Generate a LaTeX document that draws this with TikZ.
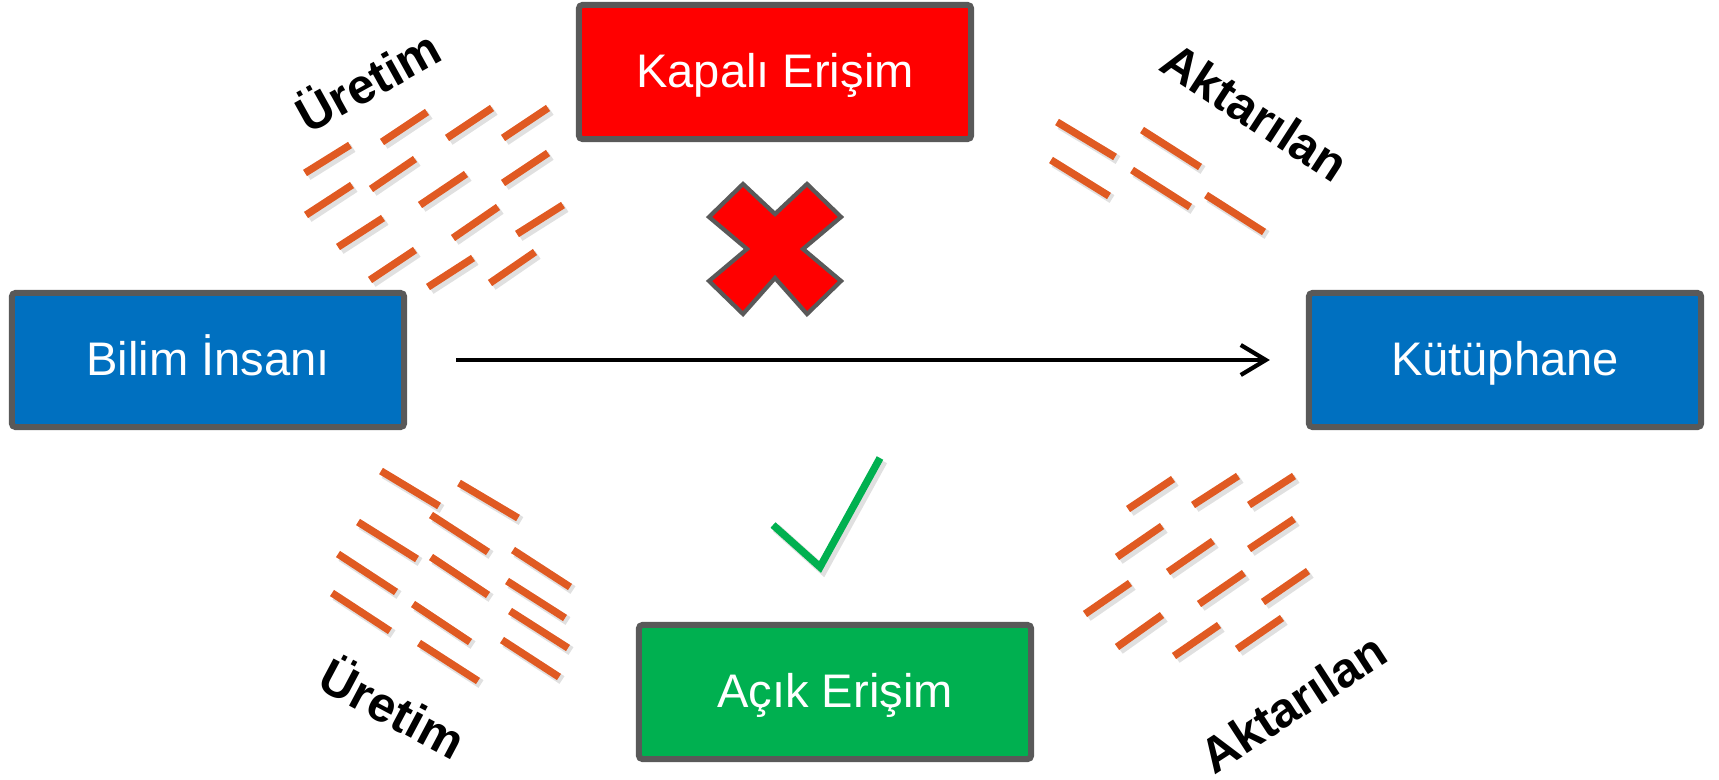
\documentclass[tikz,border=0pt]{standalone}
\usepackage{fontspec}
\setmainfont{Liberation Sans}
\usetikzlibrary{arrows.meta}

\definecolor{boxblue}{HTML}{0070C0}
\definecolor{boxred}{HTML}{FF0000}
\definecolor{boxgreen}{HTML}{00B050}
\definecolor{streakorange}{HTML}{E05A22}
\definecolor{rimgray}{HTML}{595959}

\begin{document}
\begin{tikzpicture}[x=0.01cm,y=-0.01cm,
	box/.style={draw=rimgray,line width=1.7pt,rounded corners=1pt,text=white,minimum width=3.92cm,minimum height=1.34cm,text height=0.9em,text depth=0pt,font=\fontsize{13.4}{16}\selectfont},
	tag/.style={inner sep=0pt,font=\fontsize{14}{17}\selectfont\bfseries},
	streak/.style={streakorange,line width=2.1pt},
	shade/.style={black,opacity=0.12,line width=2.6pt}]

		\useasboundingbox (0,0) rectangle (1719,779);

		\node (BilimInsani) at (208,360) [box,fill=boxblue]{Bilim İnsanı};
		\node (Kutuphane) at (1505,360) [box,fill=boxblue]{Kütüphane};

		\node (KapaliErisim) at (775,72) [box,fill=boxred]{Kapalı Erişim};
		\node (AcikErisim) at (835,692) [box,fill=boxgreen]{Açık Erişim};

		\node (UretimUst) at (367,79) [tag,rotate=29]{Üretim};
		\node (AktarilanUst) at (1255,112) [tag,rotate=-33]{Aktarılan};
		\node (UretimAlt) at (394,706) [tag,rotate=-28]{Üretim};
		\node (AktarilanAlt) at (1293,703) [tag,rotate=33]{Aktarılan};

		\draw [line width=1.2pt,-{Straight Barb[length=0.25cm,width=0.3cm]},shorten <=0.49cm,shorten >=0.36cm] (BilimInsani) -- (Kutuphane);

		% upper left
		\foreach \xa/\ya/\xb/\yb in {305/173/350/145, 382/142/427/112, 447/138/492/108, 503/138/548/108,
			306/215/352/185, 371/189/415/159, 420/205/466/174, 503/183/548/153,
			338/247/383/218, 453/238/498/207, 517/234/563/205,
			370/280/415/250, 428/287/473/258, 490/283/535/252}{
			\draw [shade] (\xa+3,\ya+3) -- (\xb+3,\yb+3);
			\draw [streak] (\xa,\ya) -- (\xb,\yb);
		}

		% upper right
		\foreach \xa/\ya/\xb/\yb in {1057/122/1115/157, 1142/130/1200/167, 1051/160/1109/196,
			1132/170/1190/207, 1206/195/1264/232}{
			\draw [shade] (\xa+3,\ya+3) -- (\xb+3,\yb+3);
			\draw [streak] (\xa,\ya) -- (\xb,\yb);
		}

		% lower left
		\foreach \xa/\ya/\xb/\yb in {381/471/439/506, 459/483/518/518, 431/515/488/552, 358/522/417/559,
			513/550/570/587, 338/554/396/592, 431/557/488/595, 507/581/565/618,
			332/593/390/631, 413/604/470/642, 510/611/568/648, 419/643/478/681, 502/640/559/677}{
			\draw [shade] (\xa+3,\ya+3) -- (\xb+3,\yb+3);
			\draw [streak] (\xa,\ya) -- (\xb,\yb);
		}

		% lower right
		\foreach \xa/\ya/\xb/\yb in {1128/509/1173/479, 1193/505/1238/476, 1249/505/1294/476,
			1117/557/1162/526, 1249/549/1294/519, 1168/572/1213/541,
			1085/614/1130/583, 1199/604/1244/573, 1263/602/1308/571,
			1117/647/1162/615, 1174/656/1219/625, 1237/649/1282/618}{
			\draw [shade] (\xa+3,\ya+3) -- (\xb+3,\yb+3);
			\draw [streak] (\xa,\ya) -- (\xb,\yb);
		}

		% cross
		\draw [fill=boxred,draw=rimgray,line width=1.2pt] (743,184) -- (775,214) -- (807,184) -- (841,217) -- (803,249) -- (841,281) -- (807,314) -- (775,278) -- (743,314) -- (709,281) -- (747,249) -- (709,217) -- cycle;

		% tick
		\draw [shade,line width=2.6pt] (776,528) -- (823,570) -- (883,461);
		\draw [boxgreen,line width=2.1pt] (773,525) -- (820,567) -- (880,458);

\end{tikzpicture}
\end{document}
